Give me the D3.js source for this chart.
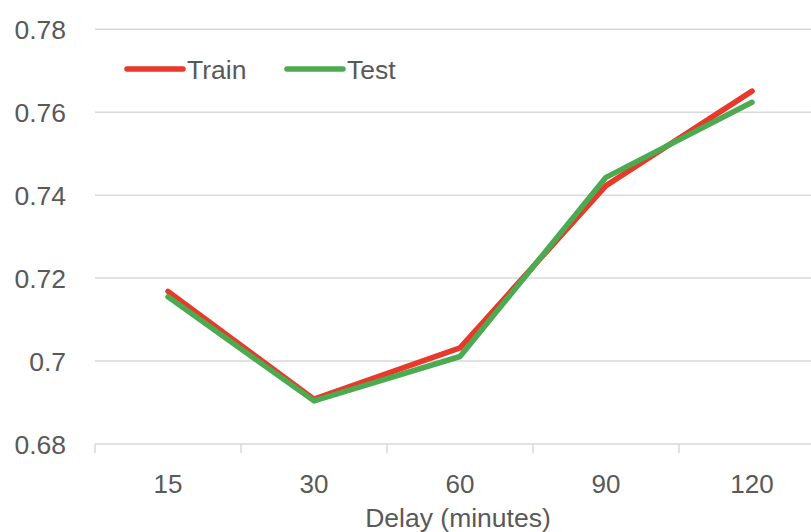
<!DOCTYPE html>
<html><head><meta charset="utf-8">
<script src="https://cdn.jsdelivr.net/npm/d3@7"></script>
<style>html,body{margin:0;padding:0;background:#fff;overflow:hidden}</style>
</head><body>
<svg id="c" width="811" height="532"></svg>
<script>
const categories = ["15","30","60","90","120"];
const trainValues = [0.7168, 0.6908, 0.7032, 0.7423, 0.7651];
const testValues  = [0.7155, 0.6904, 0.7011, 0.7443, 0.7624];
const yTicks = [0.68, 0.70, 0.72, 0.74, 0.76, 0.78];
const yTickLabels = ["0.68","0.7","0.72","0.74","0.76","0.78"];
const seriesNames = ["Train","Test"];
const seriesColors = ["#e8392a","#4caa50"];

(function(){
const svg = d3.select("#c");
const mL = 95, mR = 825, mT = 29.3, mB = 444;
const font = "'Liberation Sans', Arial, sans-serif";
const x = d3.scaleBand().domain(categories).range([mL, mR]);
const y = d3.scaleLinear().domain([0.68, 0.78]).range([mB, mT]);

svg.append("g").selectAll("line").data(yTicks).join("line")
  .attr("x1", mL).attr("x2", 811)
  .attr("y1", d => y(d)).attr("y2", d => y(d))
  .attr("stroke", "#d9d9d9").attr("stroke-width", 1.5);

svg.append("g").selectAll("text").data(yTicks).join("text")
  .attr("x", 66).attr("y", d => y(d) + 9.5)
  .attr("text-anchor", "end")
  .attr("font-family", font).attr("font-size", 26.5).attr("fill", "#595959")
  .text((d, i) => yTickLabels[i]);

const bounds = categories.map(c => x(c)).concat([x(categories[categories.length-1]) + x.bandwidth()]);
svg.append("g").selectAll("line").data(bounds).join("line")
  .attr("x1", d => d).attr("x2", d => d)
  .attr("y1", mB).attr("y2", mB + 9)
  .attr("stroke", "#d9d9d9").attr("stroke-width", 1.5);

svg.append("g").selectAll("text").data(categories).join("text")
  .attr("x", d => x(d) + x.bandwidth()/2).attr("y", 493)
  .attr("text-anchor", "middle")
  .attr("font-family", font).attr("font-size", 26).attr("fill", "#595959")
  .text(d => d);

svg.append("text").attr("x", 458).attr("y", 527)
  .attr("text-anchor", "middle")
  .attr("font-family", font).attr("font-size", 26.5).attr("fill", "#595959")
  .text("Delay (minutes)");

const line = d3.line().x((d, i) => x(categories[i]) + x.bandwidth()/2).y(d => y(d));
[trainValues, testValues].forEach((vals, k) => {
  svg.append("path").datum(vals).attr("d", line)
    .attr("fill", "none").attr("stroke", seriesColors[k])
    .attr("stroke-width", 5.5).attr("stroke-linecap", "round").attr("stroke-linejoin", "round");
});

const legX = [127, 287];
seriesNames.forEach((n, k) => {
  svg.append("line").attr("x1", legX[k]).attr("x2", legX[k] + 56)
    .attr("y1", 69).attr("y2", 69)
    .attr("stroke", seriesColors[k]).attr("stroke-width", 5.5).attr("stroke-linecap", "round");
  svg.append("text").attr("x", legX[k] + 60).attr("y", 78.5)
    .attr("font-family", font).attr("font-size", 26.5).attr("fill", "#595959")
    .text(n);
});
})();
</script>
</body></html>
